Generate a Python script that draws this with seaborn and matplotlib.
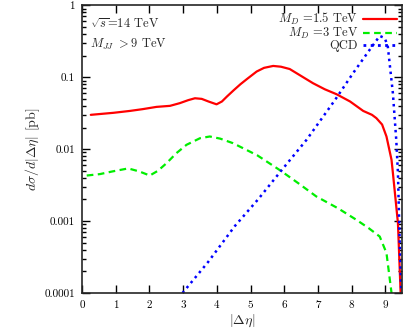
# d sigma / d|Delta eta| for dijet events, M_JJ > 9 TeV

import numpy as np
import pandas as pd
import matplotlib
matplotlib.use("Agg")
import matplotlib.pyplot as plt
import matplotlib.ticker as mticker
from matplotlib.lines import Line2D
import seaborn as sns

# -----------------------------------
# DATA
# -----------------------------------

md15_eta = [0.26, 0.6, 0.93, 1.42, 1.8, 2.21, 2.61, 2.9, 3.15, 3.35, 3.55, 3.75, 3.99,
            4.15, 4.3, 4.5, 4.7, 4.9, 5.18, 5.4, 5.67, 5.9, 6.16, 6.36, 6.85, 7.2, 7.55,
            7.95, 8.34, 8.6, 8.73, 8.9, 9.03, 9.18, 9.22, 9.37, 9.45]
md15_xs = [0.030, 0.031, 0.032, 0.034, 0.036, 0.0387, 0.040, 0.0436, 0.048, 0.051, 0.050,
           0.046, 0.042, 0.046, 0.054, 0.066, 0.080, 0.095, 0.12, 0.135, 0.1435, 0.14,
           0.13, 0.114, 0.0826, 0.068, 0.058, 0.046, 0.034, 0.030, 0.027, 0.022, 0.015,
           0.0071, 0.0047, 0.00094, 0.0001]

md3_eta = [0.14, 0.53, 0.9, 1.37, 1.7, 2.01, 2.25, 2.51, 2.8, 3.1, 3.5, 3.79, 4.1, 4.48,
           5.2, 5.87, 6.4, 6.95, 7.6, 8.14, 8.5, 8.83, 9.03, 9.18]
md3_xs = [0.0043, 0.0045, 0.0049, 0.0054, 0.0049, 0.0043, 0.0050, 0.0064, 0.0088, 0.0115,
          0.0142, 0.015, 0.014, 0.0121, 0.0082, 0.0051, 0.0034, 0.0022, 0.0015, 0.00104,
          0.0008, 0.00061, 0.00036, 0.0001]

qcd_eta = [2.98, 3.74, 4.53, 5.22, 5.92, 6.66, 7.5, 8.04, 8.53, 8.83, 8.98, 9.07, 9.22,
           9.32, 9.37, 9.42, 9.47]
qcd_xs = [0.0001, 0.00027, 0.00085, 0.002, 0.0051, 0.0135, 0.048, 0.114, 0.24, 0.375,
          0.35, 0.266, 0.06, 0.0135, 0.0047, 0.00055, 0.0001]

y_ticks = [0.0001, 0.001, 0.01, 0.1, 1]
y_tick_labels = ["0.0001", "0.001", "0.01", "0.1", "1"]
x_ticks = [0, 1, 2, 3, 4, 5, 6, 7, 8, 9]

# -----------------------------------
# STYLE
# -----------------------------------

sns.set_style("ticks")
plt.rcParams["font.family"] = "serif"
plt.rcParams["font.serif"] = ["cmr10", "DejaVu Serif"]
plt.rcParams["mathtext.fontset"] = "cm"
plt.rcParams["axes.unicode_minus"] = False

fig = plt.figure(figsize=(4.07, 3.30), dpi=100)
ax = fig.add_axes([0.2015, 0.112, 0.787, 0.872])

# -----------------------------------
# PLOT
# -----------------------------------

red_ls = "-"
green_ls = (0, (3, 2))
blue_ls = (0, (1, 1.6))

sns.lineplot(x=md15_eta, y=md15_xs, ax=ax, color="#ff0000", lw=1.6, legend=False)
sns.lineplot(x=md3_eta, y=md3_xs, ax=ax, color="#00ee00", lw=1.6, legend=False)
ax.lines[-1].set_linestyle(green_ls)
sns.lineplot(x=qcd_eta, y=qcd_xs, ax=ax, color="#0000ff", lw=1.8, legend=False)
ax.lines[-1].set_linestyle(blue_ls)

ax.set_yscale("log")
ax.set_xlim(0, 9.5)
ax.set_ylim(0.0001, 1)

ax.set_xticks(x_ticks)
ax.set_yticks(y_ticks)
ax.yaxis.set_major_formatter(mticker.FixedFormatter(y_tick_labels))
ax.yaxis.set_minor_locator(mticker.LogLocator(base=10, subs=np.arange(2, 10)))
ax.yaxis.set_minor_formatter(mticker.NullFormatter())

ax.tick_params(which="both", direction="in", top=True, right=True,
               labelsize=8, width=1.0, colors="black")
ax.tick_params(which="major", length=6, pad=5)
ax.tick_params(which="minor", length=3)
for s in ax.spines.values():
    s.set_linewidth(1.2)
    s.set_visible(True)

ax.set_xlabel(r"$|\Delta\eta|$", fontsize=10, labelpad=2)
ax.set_ylabel(r"$d\sigma/d|\Delta\eta|$ [pb]", fontsize=10, labelpad=2)

ax.text(0.025, 0.935, r"$\sqrt{s}$=14 TeV", transform=ax.transAxes,
        fontsize=9, va="center", ha="left")
ax.text(0.025, 0.865, r"$M_{JJ}$ $>$9 TeV", transform=ax.transAxes,
        fontsize=9, va="center", ha="left")

handles = [
    Line2D([], [], color="#ff0000", lw=1.6, ls=red_ls),
    Line2D([], [], color="#00ee00", lw=1.6, ls=green_ls),
    Line2D([], [], color="#0000ff", lw=2.0, ls=blue_ls),
]
labels = [r"$M_D$ =1.5 TeV", r"$M_D$ =3 TeV", "QCD"]
leg = ax.legend(handles, labels, loc="upper right", frameon=False, markerfirst=False,
                fontsize=9, handlelength=2.7, handletextpad=0.4, labelspacing=-0.08,
                borderaxespad=0.25, borderpad=0.2)
leg.set_zorder(10)

fig.savefig("out.png", dpi=100)
